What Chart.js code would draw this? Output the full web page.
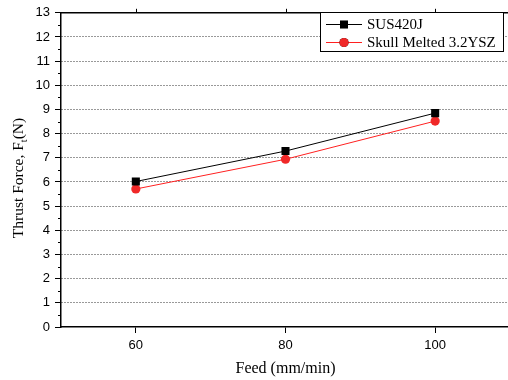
<!DOCTYPE html>
<html>
<head>
<meta charset="utf-8">
<script src="https://cdn.jsdelivr.net/npm/chart.js"></script>
<style>
  html, body { margin: 0; padding: 0; background: #fff; overflow: hidden; }
  #wrap { width: 508px; height: 380px; overflow: hidden; }
</style>
</head>
<body>
<div id="wrap"><canvas id="thrustChart" width="520" height="380"></canvas></div>
<script>
// feed rates and measured thrust force
const feeds = [60, 80, 100];
const sus420j = [6.02, 7.28, 8.85];
const skullMelted = [5.71, 6.94, 8.52];
const seriesNames = ["SUS420J", "Skull Melted 3.2YSZ"];
const xTicks = [60, 80, 100];

const serif = "'Liberation Serif', 'Times New Roman', serif";
const sans = "'Liberation Sans', Arial, sans-serif";

// minor ticks, top frame line, axis titles and boxed legend
const decorations = {
    id: "decorations",
    afterDraw(chart) {
        const ctx = chart.ctx;
        const area = chart.chartArea;
        const y = chart.scales.y;
        const x = chart.scales.x;
        ctx.save();

        ctx.strokeStyle = "#000";
        ctx.lineWidth = 1;
        for (let v = 0.5; v < 13; v += 1) {
            const py = Math.round(y.getPixelForValue(v)) + 0.5;
            ctx.beginPath();
            ctx.moveTo(area.left - 3, py);
            ctx.lineTo(area.left, py);
            ctx.stroke();
        }

        ctx.lineWidth = 1.5;
        ctx.beginPath();
        ctx.moveTo(area.left, area.top);
        ctx.lineTo(area.right, area.top);
        ctx.stroke();

        ctx.lineWidth = 1;
        xTicks.forEach(v => {
            const px = Math.round(x.getPixelForValue(v)) + 0.5;
            ctx.beginPath();
            ctx.moveTo(px, area.top);
            ctx.lineTo(px, area.top - 4);
            ctx.stroke();
        });

        // axis titles
        ctx.fillStyle = "#000";
        ctx.font = "16px " + serif;
        ctx.textAlign = "center";
        ctx.textBaseline = "alphabetic";
        ctx.fillText("Feed (mm/min)", (area.left + 510) / 2, 373);

        ctx.save();
        ctx.translate(23, 178);
        ctx.rotate(-Math.PI / 2);
        ctx.textAlign = "left";
        const main = "Thrust Force, F";
        const rest = "(N)";
        ctx.font = "15.5px " + serif;
        const wMain = ctx.measureText(main).width;
        ctx.font = "10px " + serif;
        const wSub = ctx.measureText("t").width;
        ctx.font = "15.5px " + serif;
        const wRest = ctx.measureText(rest).width;
        let sx = -(wMain + wSub + wRest) / 2;
        ctx.fillText(main, sx, 0);
        sx += wMain;
        ctx.font = "10px " + serif;
        ctx.fillText("t", sx, 4);
        sx += wSub;
        ctx.font = "15.5px " + serif;
        ctx.fillText(rest, sx, 0);
        ctx.restore();

        // legend box
        const lx = 320, ly = 12, lw = 183, lh = 39;
        ctx.fillStyle = "#fff";
        ctx.fillRect(lx, ly, lw, lh);
        ctx.strokeStyle = "#000";
        ctx.lineWidth = 1;
        ctx.strokeRect(lx + 0.5, ly + 0.5, lw, lh);
        chart.data.datasets.forEach((ds, i) => {
            const rowY = ly + 12 + i * 18;
            ctx.strokeStyle = ds.borderColor;
            ctx.lineWidth = 1;
            ctx.beginPath();
            ctx.moveTo(lx + 6, rowY + 0.5);
            ctx.lineTo(lx + 42, rowY + 0.5);
            ctx.stroke();
            Chart.helpers.drawPoint(ctx, {
                pointStyle: ds.pointStyle,
                radius: ds.pointRadius,
                borderWidth: 0,
                rotation: 0
            }, lx + 24, rowY + 0.5);
            ctx.fillStyle = ds.pointBackgroundColor;
            ctx.fill();
            ctx.fillStyle = "#000";
            ctx.font = "15px " + serif;
            ctx.textAlign = "left";
            ctx.textBaseline = "middle";
            ctx.fillText(ds.label, lx + 47, rowY + 1);
        });

        ctx.restore();
    }
};

new Chart(document.getElementById("thrustChart").getContext("2d"), {
    type: "line",
    data: {
        datasets: [
            {
                label: seriesNames[0],
                data: feeds.map((f, i) => ({ x: f, y: sus420j[i] })),
                borderColor: "#000000",
                backgroundColor: "#000000",
                pointBackgroundColor: "#000000",
                pointBorderColor: "#000000",
                pointStyle: "rect",
                pointRadius: 5.7,
                pointBorderWidth: 0,
                borderWidth: 1
            },
            {
                label: seriesNames[1],
                data: feeds.map((f, i) => ({ x: f, y: skullMelted[i] })),
                borderColor: "#ff2020",
                backgroundColor: "#ff2020",
                pointBackgroundColor: "#f02828",
                pointBorderColor: "#f02828",
                pointStyle: "circle",
                pointRadius: 4.6,
                pointBorderWidth: 0,
                borderWidth: 1
            }
        ]
    },
    options: {
        responsive: false,
        animation: false,
        layout: { padding: { left: 0, top: 10, right: 10, bottom: 0 } },
        plugins: {
            legend: { display: false },
            tooltip: { enabled: false }
        },
        scales: {
            x: {
                type: "linear",
                min: 50,
                max: 110,
                afterBuildTicks: scale => {
                    scale.ticks = xTicks.map(v => ({ value: v }));
                },
                afterFit: scale => { scale.height = 53; },
                border: { color: "#000", width: 1.5 },
                grid: {
                    drawOnChartArea: false,
                    drawTicks: true,
                    tickLength: 6,
                    tickColor: "#000",
                    tickWidth: 1
                },
                ticks: {
                    color: "#000",
                    padding: 5,
                    font: { family: sans, size: 13 },
                    maxRotation: 0
                }
            },
            y: {
                min: 0,
                max: 13,
                afterFit: scale => { scale.width = 61; },
                border: { color: "#000", width: 1.5, dash: [1, 2] },
                grid: {
                    color: ctx => (ctx.tick && (ctx.tick.value === 0 || ctx.tick.value === 13)) ? "rgba(0,0,0,0)" : "#333",
                    lineWidth: 1,
                    drawTicks: true,
                    tickLength: 6,
                    tickColor: "#000",
                    tickWidth: 1,
                    tickBorderDash: []
                },
                ticks: {
                    stepSize: 1,
                    color: "#000",
                    padding: 5,
                    font: { family: sans, size: 13 }
                }
            }
        }
    },
    plugins: [decorations]
});
</script>
</body>
</html>
